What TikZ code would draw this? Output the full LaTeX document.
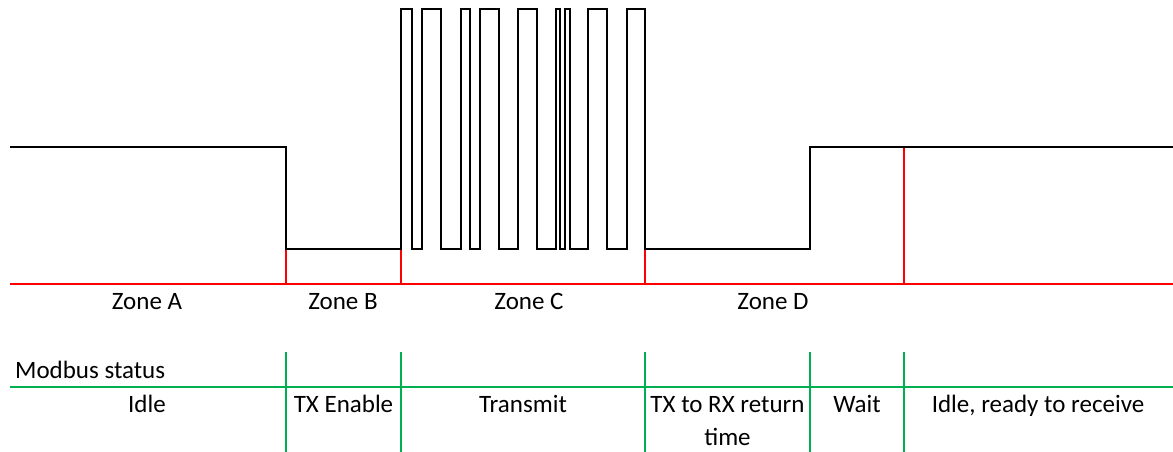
\documentclass[tikz,border=0pt]{standalone}
\usepackage{fontspec}
\setmainfont{Carlito}
\definecolor{xgreen}{RGB}{0,176,80}
\tikzset{
  sig/.style={line width=2pt, black, line join=miter},
  redl/.style={line width=2pt, red},
  grn/.style={line width=2pt, xgreen},
  lab/.style={font=\fontsize{25}{29}\selectfont, anchor=base, inner sep=0pt},
}
\begin{document}
\begin{tikzpicture}[x=1pt,y=-1pt]
\useasboundingbox (0,0) rectangle (1173,452);
% red zone markers
\coordinate (rl) at (10,284);
\coordinate (rr) at (1173,284);
\draw[redl] (rl) -- (rr);
\foreach \xx in {286,401,645} \draw[redl] (\xx,284) -- (\xx,249);
\draw[redl] (904,284) -- (904,147);
% signal
\draw[sig] (10,147) -- (286,147) -- (286,249) -- (401,249)
  \foreach \a/\b in {401/411.7, 421.7/440.7, 461/470, 480/499, 518.3/536.7,
                     555.5/560.3, 565/569.5, 588.3/607.3, 626.7/645}
  { -- (\a,249) -- (\a,9.5) -- (\b,9.5) -- (\b,249) }
  -- (810,249) -- (810,147) -- (1173,147);
% green status table
\coordinate (gl) at (10,386.7);
\coordinate (gr) at (1173,386.7);
\draw[grn] (gl) -- (gr);
\foreach \xx in {286,401,645,810,904} \draw[grn] (\xx,351.7) -- (\xx,452);
% zone labels
\node[lab] (za) at (147,309) {Zone A};
\node[lab] (zb) at (343,309) {Zone B};
\node[lab] (zc) at (529,309) {Zone C};
\node[lab] (zd) at (773,309) {Zone D};
% status
\node[lab, anchor=base west] (ms) at (15,378) {Modbus status};
\node[lab] (s1) at (147,412.7) {Idle};
\node[lab] (s2) at (343.5,412.7) {TX Enable};
\node[lab] (s3) at (523,412.7) {Transmit};
\node[lab] (s4) at (727.5,412.7) {TX to RX return};
\node[lab] (s4b) at (727.5,445.7) {time};
\node[lab] (s5) at (857,412.7) {Wait};
\node[lab] (s6) at (1038,412.7) {Idle, ready to receive};
\end{tikzpicture}
\end{document}
